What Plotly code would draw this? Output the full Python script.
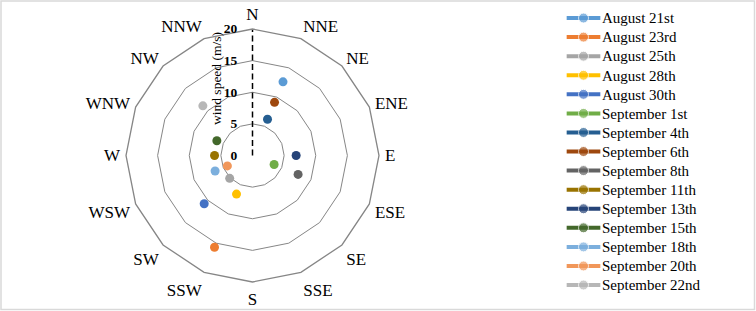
import plotly.graph_objects as go

directions = ["N", "NNE", "NE", "ENE", "E", "ESE", "SE", "SSE",
              "S", "SSW", "SW", "WSW", "W", "WNW", "NW", "NNW"]
series_names = ["August 21st", "August 23rd", "August 25th", "August 28th", "August 30th",
                "September 1st", "September 4th", "September 6th", "September 8th",
                "September 11th", "September 13th", "September 15th", "September 18th",
                "September 20th", "September 22nd"]
series_direction = ["NNE", "SSW", "SW", "SSW", "SW",
                    "ESE", "NNE", "NNE", "ESE",
                    "W", "E", "WNW", "WSW",
                    "WSW", "NW"]
series_speed = [12.6, 15.7, 5.1, 6.6, 10.8,
                3.7, 6.2, 9.1, 7.8,
                6.0, 6.9, 6.1, 6.4,
                4.3, 11.1]
series_colors = ["#5B9BD5", "#ED7D31", "#A5A5A5", "#FFC000", "#4472C4",
                 "#70AD47", "#255E91", "#9E480E", "#636363",
                 "#997300", "#264478", "#43682B", "#7CAFDD",
                 "#F1975A", "#B7B7B7"]
radial_ticks = [0, 5, 10, 15, 20]

FONT = "Liberation Serif"
W, H = 756, 311
cx, cy, R = 252.5, 155.5, 126.5

fig = go.Figure()

# dashed radial axis line along N
fig.add_trace(go.Scatterpolar(
    r=[radial_ticks[0], radial_ticks[-1]], theta=[directions[0], directions[0]],
    mode="lines", line=dict(color="black", width=1.5, dash="6px,3.5px"),
    showlegend=False, hoverinfo="skip"))

for name, d, s, c in zip(series_names, series_direction, series_speed, series_colors):
    fig.add_trace(go.Scatterpolar(
        r=[s], theta=[d], mode="markers", name=name,
        marker=dict(size=9, color=c), showlegend=False))

# legend drawn as a small categorical axis: line glyph with a marker in the middle
for name, c in zip(series_names, series_colors):
    fig.add_trace(go.Scatter(
        x=[0, 0.5, 1], y=[name] * 3, mode="lines+markers",
        line=dict(color=c, width=4), marker=dict(size=[0, 10, 0], color=c),
        xaxis="x", yaxis="y", showlegend=False, hoverinfo="skip"))

n = len(series_names)
leg_top, leg_row = 8.5, 19.07
leg_bottom = leg_top + leg_row * n

fig.update_layout(
    width=W, height=H,
    margin=dict(l=0, r=0, t=0, b=0, autoexpand=False),
    paper_bgcolor="white", plot_bgcolor="rgba(0,0,0,0)",
    showlegend=False,
    font=dict(family=FONT, color="black"),
    polar=dict(
        domain=dict(x=[(cx - R) / W, (cx + R) / W], y=[1 - (cy + R) / H, 1 - (cy - R) / H]),
        bgcolor="white",
        gridshape="linear",
        angularaxis=dict(
            type="category", categoryarray=directions, direction="clockwise", rotation=90,
            showgrid=False, showline=True, linecolor="#868686", linewidth=1.3,
            ticks="outside", ticklen=2, tickcolor="rgba(0,0,0,0)",
            tickfont=dict(family=FONT, size=17, color="black")),
        radialaxis=dict(
            range=[radial_ticks[0], radial_ticks[-1]], tickvals=radial_ticks,
            angle=90, side="counterclockwise", tickangle=90,
            showline=False, showgrid=True, gridcolor="#868686", gridwidth=1.3,
            ticks="outside", ticklen=10, tickcolor="rgba(0,0,0,0)",
            tickfont=dict(family=FONT, size=13.5, color="black", weight="bold")),
    ),
    xaxis=dict(domain=[566 / W, 601 / W], range=[-0.02, 1.02], visible=False, fixedrange=True),
    yaxis=dict(domain=[1 - leg_bottom / H, 1 - leg_top / H], type="category",
               categoryarray=series_names, range=[n - 0.5, -0.5],
               tickmode="array", tickvals=series_names, ticktext=series_names,
               side="right", showgrid=False, zeroline=False, showline=False, ticks="",
               tickfont=dict(family=FONT, size=15, color="black"), fixedrange=True),
    annotations=[dict(text="wind speed (m/s)", textangle=-90, showarrow=False,
                      x=216 / W, y=1 - 79 / H, xref="paper", yref="paper",
                      xanchor="center", yanchor="middle",
                      font=dict(family=FONT, size=13.5, color="black"))],
    shapes=[dict(type="rect", xref="paper", yref="paper", x0=1 / W, x1=1 - 1.5 / W,
                 y0=1.5 / H, y1=1 - 1 / H, line=dict(color="#D9D9D9", width=1.5))],
)

fig.write_html("out.html", config={"displayModeBar": False},
               post_script="document.body.style.margin='0';document.body.style.overflow='hidden';")
